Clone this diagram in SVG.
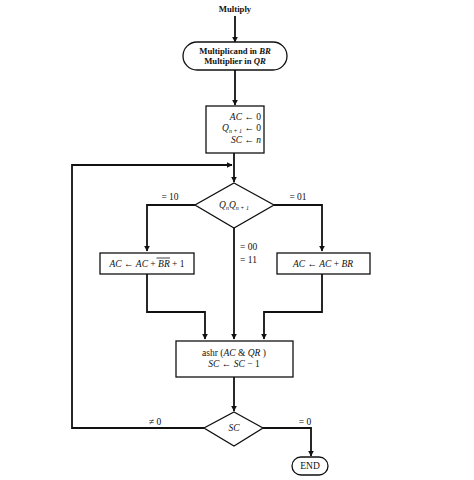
<svg xmlns="http://www.w3.org/2000/svg" width="474" height="480" viewBox="0 0 474 480">
<style>
text{font-family:"Liberation Serif","Times New Roman",serif;font-size:9.5px;fill:#111}
.b{font-weight:bold;font-size:8.7px}
.i{font-style:italic}
.c{text-anchor:middle}
.e{text-anchor:end}
.s{fill:#fff;stroke:#111;stroke-width:1.3}
.l{fill:none;stroke:#111;stroke-width:1.8}
</style>
<defs>
<marker id="a" viewBox="0 0 10 10" refX="9" refY="5" markerWidth="6" markerHeight="6" orient="auto" markerUnits="userSpaceOnUse"><path d="M0,0 L10,5 L0,10 z" fill="#111"/></marker>
</defs>
<rect width="474" height="480" fill="#fff"/>
<g id="connectors">
<path class="l" d="M235,16 V42" marker-end="url(#a)"/>
<path class="l" d="M235,70 V105" marker-end="url(#a)"/>
<path class="l" d="M234,153 V182" marker-end="url(#a)"/>
<path class="l" d="M195,205 H147 V251" marker-end="url(#a)"/>
<path class="l" d="M274,205 H322 V251" marker-end="url(#a)"/>
<path class="l" d="M234,228 V339" marker-end="url(#a)"/>
<path class="l" d="M147,274 V312 H205 V339" marker-end="url(#a)"/>
<path class="l" d="M322,274 V312 H264 V339" marker-end="url(#a)"/>
<path class="l" d="M234,377 V411" marker-end="url(#a)"/>
<path class="l" d="M204,428 H72 V165 H232" marker-end="url(#a)"/>
<path class="l" d="M263,428 H311 V456" marker-end="url(#a)"/>
<text x="170" y="200" class="c">= 10</text>
<text x="298" y="200" class="c">= 01</text>
<text x="240" y="250">= 00</text>
<text x="240" y="263">= 11</text>
<text x="155" y="425" class="c">≠ 0</text>
<text x="305" y="425" class="c">= 0</text>
</g>
<g id="start">
<text x="235" y="12" class="b c">Multiply</text>
</g>
<g id="load">
<rect class="s" x="183" y="42" width="104" height="28" rx="14"/>
<text x="235" y="54" class="b c">Multiplicand in <tspan class="i">BR</tspan></text>
<text x="235" y="64" class="b c">Multiplier in <tspan class="i">QR</tspan></text>
</g>
<g id="init">
<rect class="s" x="206" y="106" width="58" height="47"/>
<text x="261" y="120" class="e"><tspan class="i">AC</tspan> ← 0</text>
<text x="261" y="131" class="e"><tspan class="i">Q</tspan><tspan class="i" font-size="6" dy="2">n + 1</tspan><tspan dy="-2"> ← 0</tspan></text>
<text x="261" y="143" class="e"><tspan class="i">SC</tspan> ← <tspan class="i">n</tspan></text>
</g>
<g id="decision">
<polygon class="s" points="234,183 274,205 234,228 195,205"/>
<text x="234" y="208" class="c i">Q<tspan font-size="6" dy="2">n</tspan><tspan dy="-2">Q</tspan><tspan font-size="6" dy="2">n + 1</tspan></text>
</g>
<g id="sub">
<rect class="s" x="100" y="253" width="94" height="21"/>
<text x="147" y="267" class="c"><tspan class="i">AC</tspan> ← <tspan class="i">AC</tspan> + <tspan class="i">BR</tspan> + 1</text>
<line x1="156.5" y1="258" x2="170" y2="258" stroke="#111" stroke-width="0.8"/>
</g>
<g id="add">
<rect class="s" x="277" y="253" width="93" height="21"/>
<text x="323" y="267" class="c"><tspan class="i">AC</tspan> ← <tspan class="i">AC</tspan> + <tspan class="i">BR</tspan></text>
</g>
<g id="shift">
<rect class="s" x="176" y="341" width="117" height="36"/>
<text x="234" y="356" class="c">ashr (<tspan class="i">AC</tspan> &amp; <tspan class="i">QR</tspan> )</text>
<text x="234" y="367" class="c"><tspan class="i">SC</tspan> ← <tspan class="i">SC</tspan> − 1</text>
</g>
<g id="check">
<polygon class="s" points="234,412 263,428 234,446 204,428"/>
<text x="234" y="431" class="c i">SC</text>
</g>
<g id="end">
<rect class="s" x="292" y="457" width="36" height="18" rx="9"/>
<text x="310" y="469" class="c">END</text>
</g>
</svg>
